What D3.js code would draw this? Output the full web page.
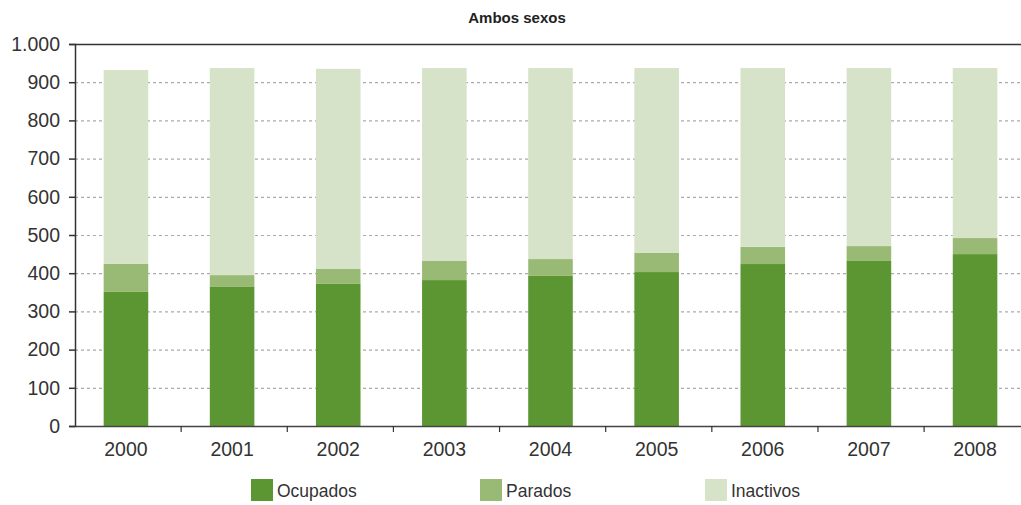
<!DOCTYPE html>
<html><head><meta charset="utf-8">
<script src="https://cdn.jsdelivr.net/npm/d3@7"></script>
<style>body{margin:0;background:#fff}svg{display:block}text{font-family:"Liberation Sans",Arial,sans-serif}</style>
</head><body>
<svg id="c" width="1021" height="505"></svg>
<script>
const categories = ["2000","2001","2002","2003","2004","2005","2006","2007","2008"];
const ocupados  = [351, 364, 372, 382, 393, 403, 424, 432, 450];
const parados   = [74, 31, 39, 50, 44, 50, 45, 39, 42];
const inactivos = [507, 542, 524, 505, 500, 484, 468, 466, 445];
const seriesNames = ["Ocupados","Parados","Inactivos"];
const colors = ["#5c9632","#98ba74","#d6e3c9"];
const yTicks = [0,100,200,300,400,500,600,700,800,900,1000];
const title = "Ambos sexos";

(function(){
const svg = d3.select("#c");
const mL = 75, mR = 1026, mT = 44, mB = 426;
const x = d3.scaleBand().domain(categories).range([mL, mR]).paddingInner(0.58).paddingOuter(0.27);
const y = d3.scaleLinear().domain([0,1000]).range([mB, mT]);

const rows = categories.map((c,i)=>({cat:c, Ocupados:ocupados[i], Parados:parados[i], Inactivos:inactivos[i]}));
const stack = d3.stack().keys(seriesNames)(rows);

// grid
svg.append("g").selectAll("line").data(yTicks.filter(d=>d>0 && d<1000)).join("line")
  .attr("x1", mL).attr("x2", 1021).attr("y1", d=>y(d)+0.5).attr("y2", d=>y(d)+0.5)
  .attr("stroke","#aaa").attr("stroke-width",1.2).attr("stroke-dasharray","3,3");
// top border
svg.append("line").attr("x1",mL).attr("x2",1021).attr("y1",y(1000)+0.5).attr("y2",y(1000)+0.5)
  .attr("stroke","#333").attr("stroke-width",1.5);

// bars
svg.append("g").selectAll("g").data(stack).join("g").attr("fill",(d,i)=>colors[i])
  .selectAll("rect").data(d=>d).join("rect")
  .attr("x", d=>x(d.data.cat)).attr("width", x.bandwidth())
  .attr("y", d=>y(d[1])).attr("height", d=>y(d[0])-y(d[1]));

// y axis
const fmt = d3.formatLocale({decimal:",", thousands:".", grouping:[3], currency:["","€"]}).format(",d");
const ya = svg.append("g").attr("transform",`translate(${mL},0)`)
  .call(d3.axisLeft(y).tickValues(yTicks).tickFormat(fmt).tickSize(6).tickPadding(9));
ya.select(".domain").attr("stroke","#333").attr("stroke-width",1.5);
ya.selectAll(".tick line").attr("stroke","#333").attr("stroke-width",1.5);
ya.selectAll("text").attr("font-size",19.5).attr("fill","#333");

// x axis
const xa = svg.append("g").attr("transform",`translate(0,${mB})`)
  .call(d3.axisBottom(x).tickSize(0).tickPadding(16.5));
xa.select(".domain").attr("stroke","#444").attr("stroke-width",1.5);
xa.selectAll("text").attr("font-size",19.5).attr("fill","#333");
const step = x.step();
svg.append("g").selectAll("line").data(d3.range(1, categories.length)).join("line")
  .attr("x1", d=>mL + d*step).attr("x2", d=>mL + d*step)
  .attr("y1", mB).attr("y2", mB+6).attr("stroke","#333").attr("stroke-width",1.2);

// title
svg.append("text").attr("x",517).attr("y",23).attr("text-anchor","middle")
  .attr("font-family","'DejaVu Sans Condensed',sans-serif")
  .attr("font-size",15).attr("font-weight","bold").attr("fill","#222").text(title);

// legend
const legX = [251, 480, 705];
const lg = svg.append("g").selectAll("g").data(seriesNames).join("g")
  .attr("transform",(d,i)=>`translate(${legX[i]},479)`);
lg.append("rect").attr("width",22).attr("height",22).attr("fill",(d,i)=>colors[i]);
lg.append("text").attr("x",26).attr("y",18).attr("font-size",17.5).attr("fill","#333").text(d=>d);
})();
</script>
</body></html>
